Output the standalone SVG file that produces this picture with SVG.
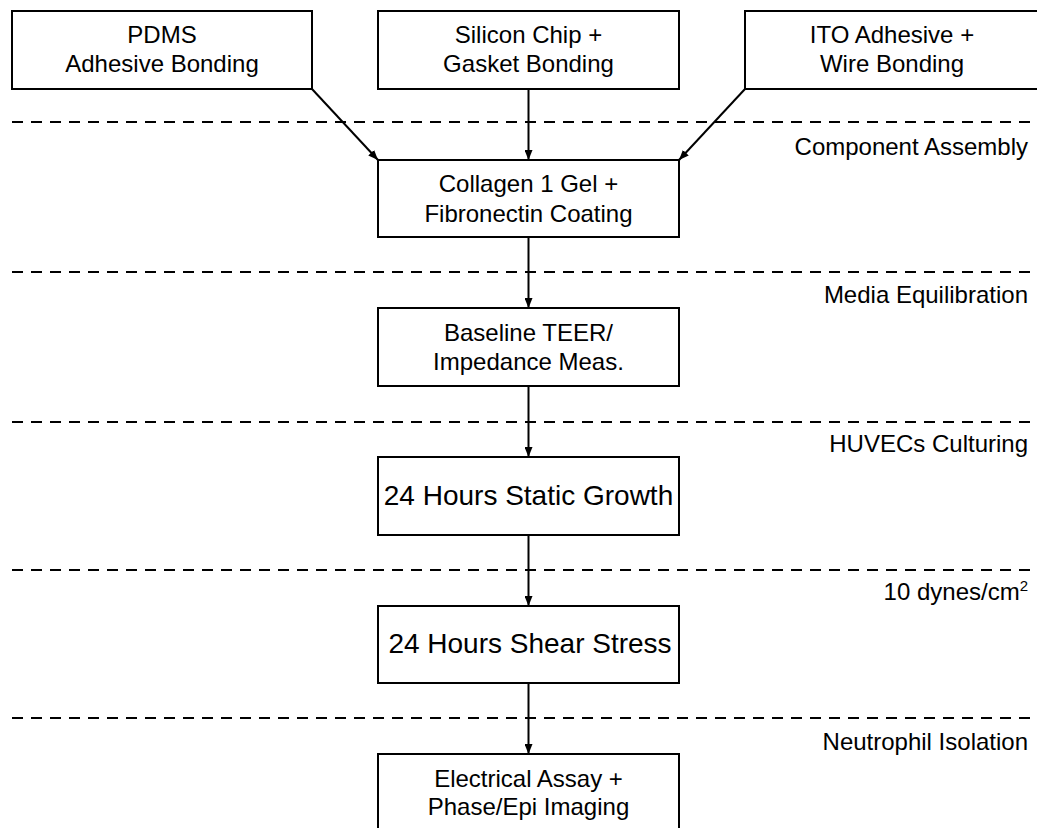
<svg xmlns="http://www.w3.org/2000/svg" width="1037" height="828" viewBox="0 0 1037 828">
<style>
.box{fill:#fff;stroke:#000;stroke-width:2}
.t{font-family:"Liberation Sans",Arial,sans-serif;font-size:24px;fill:#000;text-anchor:middle}
.big{font-size:28px}
.lab{font-family:"Liberation Sans",Arial,sans-serif;font-size:24px;fill:#000;text-anchor:end}
.dash{stroke:#000;stroke-width:2;stroke-dasharray:11 8;fill:none}
.conn{stroke:#000;stroke-width:2;fill:none;marker-end:url(#ah)}
</style>
<defs>
<marker id="ah" viewBox="0 0 10 8" refX="10" refY="4" markerWidth="10" markerHeight="8" markerUnits="userSpaceOnUse" orient="auto">
<path d="M0,0 L10,4 L0,8 Z" fill="#000"/>
</marker>
</defs>
<rect width="1037" height="828" fill="#fff"/>
<g id="separators">
<line class="dash" x1="12" y1="122" x2="1037" y2="122"/>
<line class="dash" x1="12" y1="272" x2="1037" y2="272"/>
<line class="dash" x1="12" y1="422" x2="1037" y2="422"/>
<line class="dash" x1="12" y1="570" x2="1037" y2="570"/>
<line class="dash" x1="12" y1="718" x2="1037" y2="718"/>
</g>
<g id="stage-labels">
<text class="lab" x="1028" y="155">Component Assembly</text>
<text class="lab" x="1028" y="303">Media Equilibration</text>
<text class="lab" x="1028" y="452">HUVECs Culturing</text>
<text class="lab" x="1028" y="600">10 dynes/cm<tspan font-size="15" dy="-9">2</tspan></text>
<text class="lab" x="1028" y="750">Neutrophil Isolation</text>
</g>
<g id="node-pdms">
<rect class="box" x="12" y="11" width="300" height="78"/>
<text class="t" x="162" y="43">PDMS</text>
<text class="t" x="162" y="72">Adhesive Bonding</text>
</g>
<g id="node-silicon">
<rect class="box" x="378" y="11" width="301" height="78"/>
<text class="t" x="528.5" y="43">Silicon Chip +</text>
<text class="t" x="528.5" y="72">Gasket Bonding</text>
</g>
<g id="node-ito">
<rect class="box" x="745" y="11" width="300" height="78"/>
<text class="t" x="892" y="43">ITO Adhesive +</text>
<text class="t" x="892" y="72">Wire Bonding</text>
</g>
<g id="node-collagen">
<rect class="box" x="378" y="160" width="301" height="77"/>
<text class="t" x="528.5" y="192">Collagen 1 Gel +</text>
<text class="t" x="528.5" y="222">Fibronectin Coating</text>
</g>
<g id="node-baseline">
<rect class="box" x="378" y="308" width="301" height="78"/>
<text class="t" x="528.5" y="341">Baseline TEER/</text>
<text class="t" x="528.5" y="370">Impedance Meas.</text>
</g>
<g id="node-static">
<rect class="box" x="378" y="457" width="301" height="78"/>
<text class="t big" x="528.5" y="505">24 Hours Static Growth</text>
</g>
<g id="node-shear">
<rect class="box" x="378" y="606" width="301" height="77"/>
<text class="t big" x="530" y="653">24 Hours Shear Stress</text>
</g>
<g id="node-electrical">
<rect class="box" x="378" y="754" width="301" height="80"/>
<text class="t" x="528.5" y="787">Electrical Assay +</text>
<text class="t" x="528.5" y="815">Phase/Epi Imaging</text>
</g>
<g id="connectors">
<line class="conn" x1="312" y1="89" x2="378" y2="160"/>
<line class="conn" x1="528.5" y1="89" x2="528.5" y2="160"/>
<line class="conn" x1="745" y1="89" x2="679" y2="160"/>
<line class="conn" x1="528.5" y1="237" x2="528.5" y2="308"/>
<line class="conn" x1="528.5" y1="386" x2="528.5" y2="457"/>
<line class="conn" x1="528.5" y1="535" x2="528.5" y2="606"/>
<line class="conn" x1="528.5" y1="683" x2="528.5" y2="754"/>
</g>
</svg>
